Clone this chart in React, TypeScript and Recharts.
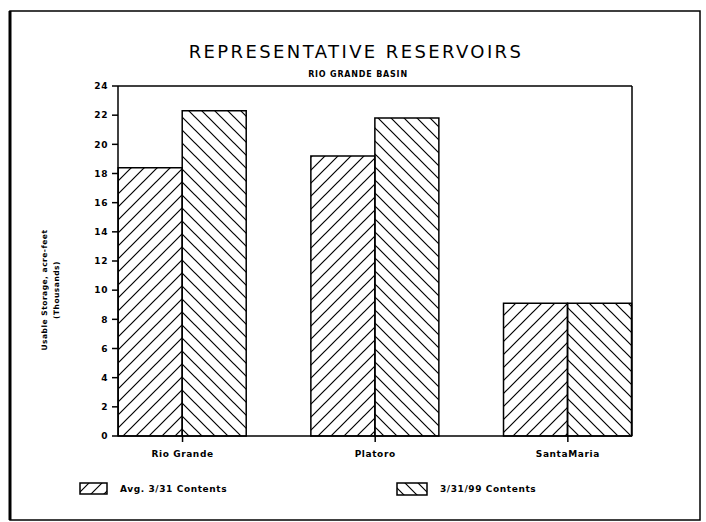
import { BarChart, Bar, XAxis, YAxis, ReferenceLine } from "recharts";

const categories = ["Rio Grande", "Platoro", "SantaMaria"];
const avgContents = [18.4, 19.2, 9.1];
const currentContents = [22.3, 21.8, 9.1];
const yTicks = [0, 2, 4, 6, 8, 10, 12, 14, 16, 18, 20, 22, 24];
const seriesNames = ["Avg. 3/31 Contents", "3/31/99 Contents"];

const data = categories.map((name, i) => ({
  x: i,
  name,
  avg: avgContents[i],
  cur: currentContents[i],
}));

const X_DOMAIN: [number, number] = [-0.335, 2.333];
const FONT = "'DejaVu Sans', sans-serif";

const tickStyle = { fontSize: 9, fontWeight: 700, fill: "#000", fontFamily: FONT, letterSpacing: 0.6 };

export default function App() {
  return (
    <div style={{ position: "absolute", left: 0, top: 0, width: 706, height: 522, background: "#fff" }}>
      {/* hatch patterns shared by bars and legend */}
      <svg width={0} height={0} style={{ position: "absolute" }}>
        <defs>
          <pattern id="hatchFwd" patternUnits="userSpaceOnUse" width={13} height={13}>
            <path d="M0,13 L13,0 M-3,3 L3,-3 M10,16 L16,10" stroke="#000" strokeWidth={1.2} />
          </pattern>
          <pattern id="hatchBack" patternUnits="userSpaceOnUse" width={13} height={13}>
            <path d="M0,0 L13,13 M-3,10 L3,16 M10,-3 L16,3" stroke="#000" strokeWidth={1.2} />
          </pattern>
        </defs>
      </svg>

      <BarChart
        width={706}
        height={522}
        data={data}
        margin={{ top: 86, right: 74, bottom: 56, left: 78 }}
        barGap={0}
      >
        <XAxis
          type="number"
          dataKey="x"
          domain={X_DOMAIN}
          ticks={[0, 1, 2]}
          tickFormatter={(v: number) => categories[v]}
          height={30}
          tickSize={6}
          stroke="#000"
          strokeWidth={1.5}
          tick={tickStyle}
          tickMargin={9}
        />
        <YAxis
          domain={[0, 24]}
          ticks={yTicks}
          width={40}
          tickSize={6}
          stroke="#000"
          strokeWidth={1.5}
          tick={tickStyle}
          tickMargin={4}
        />
        <ReferenceLine y={24} stroke="#000" strokeWidth={1.5} />
        <ReferenceLine x={X_DOMAIN[1]} stroke="#000" strokeWidth={1.5} />
        <Bar dataKey="avg" barSize={64} fill="url(#hatchFwd)" stroke="#000" strokeWidth={1.5} isAnimationActive={false} />
        <Bar dataKey="cur" barSize={64} fill="url(#hatchBack)" stroke="#000" strokeWidth={1.5} isAnimationActive={false} />
      </BarChart>

      {/* titles, axis label, legend and page frame */}
      <svg
        width={706}
        height={522}
        style={{ position: "absolute", left: 0, top: 0, pointerEvents: "none" }}
      >
        <rect x={10} y={11} width={690} height={509} fill="none" stroke="#000" strokeWidth={1.5} />
        <line x1={10} y1={11} x2={10} y2={520} stroke="#000" strokeWidth={3} />
        <text x={356} y={58} textAnchor="middle" fontFamily={FONT} fontSize={18} letterSpacing={2.4} fill="#000">
          REPRESENTATIVE RESERVOIRS
        </text>
        <text x={358} y={77} textAnchor="middle" fontFamily={FONT} fontSize={8} fontWeight={700} letterSpacing={0.8} fill="#000">
          RIO GRANDE BASIN
        </text>
        <g transform="translate(47,290) rotate(-90)">
          <text textAnchor="middle" fontFamily={FONT} fontSize={7.5} fontWeight={700} letterSpacing={0.5} fill="#000">
            Usable Storage, acre-feet
          </text>
          <text y={12} textAnchor="middle" fontFamily={FONT} fontSize={7.5} fontWeight={700} letterSpacing={0.5} fill="#000">
            (Thousands)
          </text>
        </g>
        <rect x={80} y={483} width={27} height={11} fill="url(#hatchFwd)" stroke="#000" strokeWidth={1.5} />
        <text x={120} y={492} fontFamily={FONT} fontSize={9} fontWeight={700} letterSpacing={0.6} fill="#000">
          {seriesNames[0]}
        </text>
        <rect x={397} y={483} width={30} height={12} fill="url(#hatchBack)" stroke="#000" strokeWidth={1.5} />
        <text x={440} y={492} fontFamily={FONT} fontSize={9} fontWeight={700} letterSpacing={0.6} fill="#000">
          {seriesNames[1]}
        </text>
      </svg>
    </div>
  );
}
